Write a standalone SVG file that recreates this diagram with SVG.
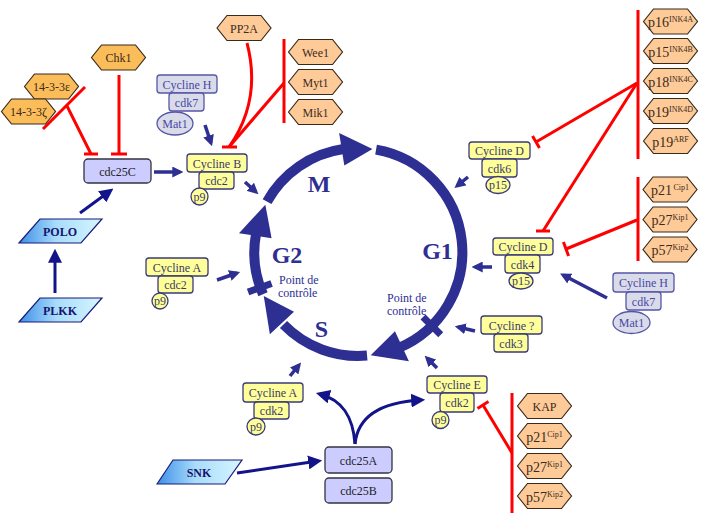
<svg xmlns="http://www.w3.org/2000/svg" width="702" height="528" viewBox="0 0 702 528">
<defs>
<style>
text{font-family:"Liberation Serif","Times New Roman",serif;}
.ty{fill:#ffff99;stroke:#3a3a7a;stroke-width:1.3}
.tg{fill:#d9dbe8;stroke:#5656a8;stroke-width:1.3}
.tl{fill:#ccccff;stroke:#333344;stroke-width:1.3}
.hp{fill:#fdca98;stroke:#3a2a1a;stroke-width:1.2}
.ho{fill:#fbbd5a;stroke:#3a2a1a;stroke-width:1.2}
.pg{fill:url(#pgr);stroke:#1a1a7a;stroke-width:1.2}
.ky{font-size:12px;fill:#3a3a6a;text-anchor:middle}
.kg{font-size:12px;fill:#4848a8;text-anchor:middle}
.kl{font-size:12px;fill:#222;text-anchor:middle}
.kh{font-size:12px;fill:#3d2a1a;text-anchor:middle}
.kb{font-size:14px;fill:#3d2a1a;text-anchor:middle}
.kp{font-size:12px;font-weight:bold;fill:#141470;text-anchor:middle}
.big{font-size:24px;font-weight:bold;fill:#2d2f92;text-anchor:middle}
.pc{font-size:12px;fill:#2d2f92}
.ring{fill:none;stroke:#2d2f92;stroke-width:10}
.rh{fill:#2d2f92}
.tick{stroke:#2d2f92;stroke-width:7}
.inh{fill:none;stroke:#ff0000;stroke-width:3}
.act{fill:none;stroke:#2d2f92;stroke-width:3.5;marker-end:url(#ah)}
.act2{fill:none;stroke:#14148a;stroke-width:3;marker-end:url(#ah2)}
.sup{font-size:8px}
</style>
<linearGradient id="pgr" x1="0" y1="0" x2="1" y2="0">
<stop offset="0" stop-color="#3d8fe8"/><stop offset="0.45" stop-color="#a8dcfa"/><stop offset="1" stop-color="#d6f6ff"/>
</linearGradient>
<marker id="ah" viewBox="0 0 10 10" refX="7" refY="5" markerWidth="11" markerHeight="11" markerUnits="userSpaceOnUse" orient="auto"><path d="M0,0 L10,5 L0,10 z" fill="#2d2f92"/></marker>
<marker id="ah2" viewBox="0 0 10 10" refX="7" refY="5" markerWidth="14" markerHeight="14" markerUnits="userSpaceOnUse" orient="auto"><path d="M0,0 L10,5 L0,10 z" fill="#14148a"/></marker>
<polygon id="hx" points="-27,0 -17,-12.5 17,-12.5 27,0 17,12.5 -17,12.5"/>
</defs>
<rect width="702" height="528" fill="#ffffff"/>

<!-- cell cycle ring -->
<g id="cycle">
<path class="ring" d="M267.04,201.58 A104,104 0 0 1 343.5,149"/>
<polygon class="rh" points="344.31,165.58 339.15,132.98 372.47,149.01"/>
<path class="ring" d="M376.06,149.58 A104,104 0 0 1 398.5,348"/>
<polygon class="rh" points="394.98,331.30 408.92,361.21 370.67,355.22"/>
<path class="ring" d="M367.06,355.60 A104,104 0 0 1 283.5,324.5"/>
<polygon class="rh" points="294.0,311.68 269.87,334.18 263.74,295.95"/>
<path class="ring" d="M262.99,294.30 A104,104 0 0 1 256,234"/>
<polygon class="rh" points="271.58,238.31 238.98,233.15 265.34,204.78"/>
<line class="tick" x1="423.05" y1="317.05" x2="440.73" y2="334.73"/>
<line class="tick" x1="271.55" y1="283.47" x2="248.06" y2="292.01"/>
<text class="big" x="319" y="192">M</text>
<text class="big" x="437.5" y="259">G1</text>
<text class="big" x="287" y="263">G2</text>
<text class="big" x="321.5" y="337">S</text>
<text class="pc" x="279" y="284">Point de</text>
<text class="pc" x="278" y="297">contrôle</text>
<text class="pc" x="387" y="302">Point de</text>
<text class="pc" x="387" y="315">contrôle</text>
</g>

<!-- connectors -->
<g id="connectors">
<line class="act" x1="154" y1="172" x2="180" y2="172"/>
<line class="act" x1="205" y1="125" x2="211" y2="143"/>
<line class="act" x1="245" y1="182" x2="256" y2="192"/>
<line class="act2" x1="80" y1="213" x2="110" y2="191"/>
<line class="act2" x1="55" y1="293" x2="55" y2="253"/>
<line class="act" x1="217" y1="280" x2="237" y2="273"/>
<line class="act" x1="290" y1="376" x2="299" y2="365"/>
<line class="act" x1="437" y1="368" x2="427" y2="358"/>
<line class="act" x1="475" y1="331" x2="458" y2="327"/>
<line class="act" x1="492" y1="267" x2="475" y2="267"/>
<line class="act" x1="468" y1="177" x2="457" y2="186"/>
<line class="act" x1="607" y1="298" x2="563" y2="275"/>
<line class="act2" x1="237" y1="473" x2="318" y2="461"/>
<path class="act2" d="M355,444 C353,416 342,400 320,394"/>
<path class="act2" d="M355,444 C358,414 385,402 421,400"/>

<line class="inh" x1="119" y1="75" x2="119" y2="154"/>
<line class="inh" x1="111" y1="154" x2="127" y2="154"/>
<line class="inh" x1="85" y1="87" x2="43" y2="129"/>
<line class="inh" x1="67" y1="106" x2="91" y2="154"/>
<line class="inh" x1="84" y1="154" x2="98" y2="154"/>
<path class="inh" d="M247,43 Q262,100 229,147"/>
<line class="inh" x1="284" y1="39" x2="284" y2="123"/>
<line class="inh" x1="284" y1="83" x2="229" y2="147"/>
<line class="inh" x1="222" y1="147" x2="237" y2="147"/>
<line class="inh" x1="638" y1="10" x2="638" y2="159"/>
<line class="inh" x1="637" y1="83" x2="536" y2="142"/>
<line class="inh" x1="532.5" y1="136" x2="539.5" y2="148"/>
<line class="inh" x1="637" y1="83" x2="543" y2="231"/>
<line class="inh" x1="536" y1="231" x2="550" y2="231"/>
<line class="inh" x1="638" y1="177" x2="638" y2="261"/>
<line class="inh" x1="637" y1="220" x2="566" y2="249"/>
<line class="inh" x1="563.4" y1="242" x2="568.6" y2="256"/>
<line class="inh" x1="512" y1="393" x2="512" y2="513"/>
<line class="inh" x1="512" y1="453" x2="483" y2="405"/>
<line class="inh" x1="477.5" y1="408.5" x2="488.5" y2="401.5"/>
</g>

<!-- left nodes -->
<g id="chk1"><use href="#hx" class="ho" x="118.5" y="57.5"/><text class="kh" x="118.5" y="62">Chk1</text></g>
<g id="n1433e"><use href="#hx" class="ho" x="51.5" y="86.5"/><text class="kh" x="51.5" y="91" font-size="11.5">14-3-3ε</text></g>
<g id="n1433z"><use href="#hx" class="ho" x="28.5" y="111.5"/><text class="kh" x="28.5" y="116" font-size="11.5">14-3-3ζ</text></g>
<g id="cdc25C"><rect class="tl" x="84" y="159" width="67" height="24" rx="4"/><text class="kl" x="117.5" y="175.5">cdc25C</text></g>
<g id="polo"><polygon class="pg" points="19,243 40,219 102,219 81,243"/><text class="kp" x="60" y="235.5">POLO</text></g>
<g id="plkk"><polygon class="pg" points="19,322 40,298 102,298 81,322"/><text class="kp" x="60" y="314.5">PLKK</text></g>
<g id="snk"><polygon class="pg" points="157,484 173,460 242,460 225,484"/><text class="kp" x="199" y="476.5">SNK</text></g>

<g id="cyclineH1">
<rect class="tg" x="157" y="75" width="60" height="18" rx="3"/><text class="kg" x="187" y="88.5">Cycline H</text>
<rect class="tg" x="169" y="93" width="35" height="18" rx="3"/><text class="kg" x="186.5" y="106.5">cdk7</text>
<ellipse class="tg" cx="175" cy="123.5" rx="18" ry="11.5"/><text class="kg" x="175" y="128">Mat1</text>
</g>
<g id="cyclineB">
<rect class="ty" x="187" y="154" width="60" height="18" rx="3"/><text class="ky" x="217" y="167.5">Cycline B</text>
<rect class="ty" x="199" y="172" width="35" height="17" rx="3"/><text class="ky" x="216.5" y="185">cdc2</text>
<ellipse class="ty" cx="199.5" cy="196.5" rx="8.5" ry="8.5"/><text class="ky" x="199.5" y="200.5" font-size="11">p9</text>
</g>
<g id="pp2a"><use href="#hx" class="hp" x="244" y="28"/><text class="kh" x="244" y="32.5">PP2A</text></g>
<g id="wee1"><use href="#hx" class="hp" x="315.5" y="52"/><text class="kh" x="315.5" y="56.5" font-size="13">Wee1</text></g>
<g id="myt1"><use href="#hx" class="hp" x="315.5" y="82"/><text class="kh" x="315.5" y="86.5" font-size="13">Myt1</text></g>
<g id="mik1"><use href="#hx" class="hp" x="315.5" y="112"/><text class="kh" x="315.5" y="116.5" font-size="13">Mik1</text></g>

<g id="cyclineA1">
<rect class="ty" x="146" y="258" width="62" height="18" rx="3"/><text class="ky" x="177" y="271.5">Cycline A</text>
<rect class="ty" x="158" y="276" width="35" height="17" rx="3"/><text class="ky" x="175.5" y="289">cdc2</text>
<ellipse class="ty" cx="160" cy="301" rx="8" ry="8"/><text class="ky" x="160" y="305" font-size="11">p9</text>
</g>
<g id="cyclineA2">
<rect class="ty" x="243" y="383" width="60" height="19" rx="3"/><text class="ky" x="273" y="397">Cycline A</text>
<rect class="ty" x="254" y="402" width="35" height="17" rx="3"/><text class="ky" x="271.5" y="415">cdk2</text>
<ellipse class="ty" cx="256" cy="426.5" rx="9" ry="8.5"/><text class="ky" x="256" y="430.5" font-size="11">p9</text>
</g>
<g id="cdc25A"><rect class="tl" x="325" y="447" width="67" height="26" rx="4"/><text class="kl" x="358.5" y="464.5">cdc25A</text></g>
<g id="cdc25B"><rect class="tl" x="325" y="478" width="67" height="25" rx="4"/><text class="kl" x="358.5" y="495">cdc25B</text></g>

<!-- right nodes -->
<g id="cyclineD6">
<rect class="ty" x="469" y="142" width="61" height="17" rx="3"/><text class="ky" x="499.5" y="155">Cycline D</text>
<rect class="ty" x="482" y="159" width="35" height="18" rx="3"/><text class="ky" x="499.5" y="172.5">cdk6</text>
<ellipse class="ty" cx="498" cy="185" rx="12" ry="8.5"/><text class="ky" x="498" y="189" font-size="11">p15</text>
</g>
<g id="cyclineD4">
<rect class="ty" x="493" y="238" width="60" height="17" rx="3"/><text class="ky" x="523" y="251">Cycline D</text>
<rect class="ty" x="505" y="255" width="35" height="18" rx="3"/><text class="ky" x="522.5" y="268.5">cdk4</text>
<ellipse class="ty" cx="521" cy="281" rx="12" ry="8"/><text class="ky" x="521" y="285" font-size="11">p15</text>
</g>
<g id="cyclineH2">
<rect class="tg" x="613" y="273" width="61" height="19" rx="3"/><text class="kg" x="643.5" y="287">Cycline H</text>
<rect class="tg" x="626" y="292" width="35" height="18" rx="3"/><text class="kg" x="643.5" y="305.5">cdk7</text>
<ellipse class="tg" cx="631.5" cy="322.5" rx="18.5" ry="11"/><text class="kg" x="631.5" y="327">Mat1</text>
</g>
<g id="cyclineX">
<rect class="ty" x="481" y="316" width="61" height="18" rx="3"/><text class="ky" x="511.5" y="329.5">Cycline ?</text>
<rect class="ty" x="494" y="334" width="34" height="18" rx="3"/><text class="ky" x="511" y="347.5">cdk3</text>
</g>
<g id="cyclineE">
<rect class="ty" x="427" y="376" width="60" height="17" rx="3"/><text class="ky" x="457" y="389">Cycline E</text>
<rect class="ty" x="440" y="393" width="34" height="19" rx="3"/><text class="ky" x="457" y="407">cdk2</text>
<ellipse class="ty" cx="440.5" cy="420" rx="8.5" ry="8.5"/><text class="ky" x="440.5" y="424" font-size="11">p9</text>
</g>

<g id="p16"><use href="#hx" class="hp" x="670.5" y="21.5"/><text class="kb" x="670.5" y="27">p16<tspan class="sup" dy="-5">INK4A</tspan></text></g>
<g id="p15"><use href="#hx" class="hp" x="670.5" y="51"/><text class="kb" x="670.5" y="56.5">p15<tspan class="sup" dy="-5">INK4B</tspan></text></g>
<g id="p18"><use href="#hx" class="hp" x="670.5" y="81"/><text class="kb" x="670.5" y="86.5">p18<tspan class="sup" dy="-5">INK4C</tspan></text></g>
<g id="p19d"><use href="#hx" class="hp" x="670.5" y="111"/><text class="kb" x="670.5" y="116.5">p19<tspan class="sup" dy="-5">INK4D</tspan></text></g>
<g id="p19arf"><use href="#hx" class="hp" x="670.5" y="141"/><text class="kb" x="670.5" y="146.5">p19<tspan class="sup" dy="-5">ARF</tspan></text></g>

<g id="p21a"><use href="#hx" class="hp" x="670" y="189.5"/><text class="kb" x="670" y="195">p21<tspan class="sup" dx="1.5" dy="-5">Cip1</tspan></text></g>
<g id="p27a"><use href="#hx" class="hp" x="670" y="219.5"/><text class="kb" x="670" y="225">p27<tspan class="sup" dy="-5">Kip1</tspan></text></g>
<g id="p57a"><use href="#hx" class="hp" x="670" y="249.5"/><text class="kb" x="670" y="255">p57<tspan class="sup" dy="-5">Kip2</tspan></text></g>

<g id="kap"><use href="#hx" class="hp" x="544.5" y="406"/><text class="kh" x="544.5" y="410.5" font-size="13">KAP</text></g>
<g id="p21b"><use href="#hx" class="hp" x="544.5" y="436"/><text class="kb" x="544.5" y="441.5">p21<tspan class="sup" dy="-5">Cip1</tspan></text></g>
<g id="p27b"><use href="#hx" class="hp" x="544.5" y="466"/><text class="kb" x="544.5" y="471.5">p27<tspan class="sup" dy="-5">Kip1</tspan></text></g>
<g id="p57b"><use href="#hx" class="hp" x="544.5" y="496"/><text class="kb" x="544.5" y="501.5">p57<tspan class="sup" dy="-5">Kip2</tspan></text></g>
</svg>
